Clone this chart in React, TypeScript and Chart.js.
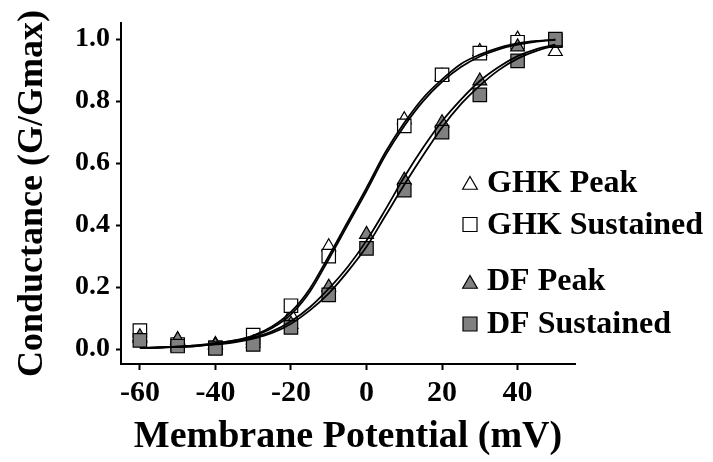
import React, { useEffect, useRef } from 'react';
import { Chart, registerables } from 'chart.js';

Chart.register(...registerables);

// Measured data points (membrane potential in mV)
const voltages = [-60, -50, -40, -30, -20, -10, 0, 10, 20, 30, 40, 50];
const ghkPeak = [0.035, 0.03, 0.015, 0.03, 0.11, 0.33, null, 0.74, 0.88, 0.96, 1.0, 0.96];
const ghkSustained = [0.06, 0.015, 0.005, 0.045, 0.14, 0.3, null, 0.72, 0.885, 0.955, 0.99, 0.995];
const dfPeak = [0.04, 0.03, 0.012, 0.02, 0.08, 0.2, 0.37, 0.545, 0.73, 0.865, 0.975, 0.99];
const dfSustained = [0.028, 0.01, 0.002, 0.015, 0.07, 0.175, 0.325, 0.513, 0.7, 0.82, 0.93, 1.0];

// Fitted curves
const curveVoltages = [-60, -55, -50, -45, -40, -35, -30, -25, -20, -15, -10, -5, 0, 5, 10, 15, 20, 25, 30, 35, 40, 45, 50];
const ghkPeakFit = [0.004, 0.006, 0.008, 0.012, 0.019, 0.028, 0.044, 0.073, 0.12, 0.195, 0.3, 0.41, 0.52, 0.635, 0.73, 0.81, 0.87, 0.92, 0.95, 0.972, 0.986, 0.994, 0.998];
const ghkSustainedFit = [0.004, 0.005, 0.008, 0.012, 0.018, 0.027, 0.042, 0.068, 0.112, 0.185, 0.29, 0.4, 0.51, 0.625, 0.72, 0.8, 0.862, 0.91, 0.944, 0.967, 0.982, 0.992, 0.998];
const dfPeakFit = [0.004, 0.005, 0.007, 0.01, 0.016, 0.024, 0.037, 0.057, 0.09, 0.135, 0.195, 0.265, 0.35, 0.45, 0.555, 0.65, 0.735, 0.805, 0.865, 0.91, 0.945, 0.968, 0.982];
const dfSustainedFit = [0.004, 0.005, 0.007, 0.01, 0.015, 0.022, 0.034, 0.052, 0.082, 0.125, 0.18, 0.25, 0.33, 0.43, 0.53, 0.625, 0.715, 0.79, 0.85, 0.9, 0.937, 0.962, 0.98];

const xTicks = [-60, -40, -20, 0, 20, 40];
const yTicks = [0, 0.2, 0.4, 0.6, 0.8, 1.0];

const seriesLabels = ['GHK Peak', 'GHK Sustained', 'DF Peak', 'DF Sustained'];

const GREY = '#808080';
const FONT = "'Liberation Serif', 'Times New Roman', serif";

function toPoints(xs: number[], ys: (number | null)[]) {
  return xs
    .map((x, i) => ({ x, y: ys[i] }))
    .filter((p) => p.y !== null) as { x: number; y: number }[];
}

function markerDataset(label: string, values: (number | null)[], style: string, fill: string, order: number) {
  const isTri = style === 'triangle';
  return {
    label,
    data: toPoints(voltages, values),
    showLine: false,
    pointStyle: style,
    pointRadius: isTri ? 8 : 9.5,
    pointHoverRadius: isTri ? 8 : 9.5,
    pointBackgroundColor: fill,
    backgroundColor: fill,
    pointBorderColor: '#000',
    borderColor: '#000',
    pointBorderWidth: 1.2,
    order,
    isMarker: true,
  };
}

function curveDataset(values: number[]) {
  return {
    label: '',
    data: toPoints(curveVoltages, values),
    showLine: true,
    pointRadius: 0,
    pointHoverRadius: 0,
    borderColor: '#000',
    borderWidth: 1.8,
    cubicInterpolationMode: 'monotone',
    fill: false,
    order: 0,
  };
}

function drawMarker(ctx: CanvasRenderingContext2D, style: string, x: number, y: number, fill: string) {
  ctx.save();
  ctx.beginPath();
  if (style === 'triangle') {
    const r = 8.5;
    ctx.moveTo(x, y - r);
    ctx.lineTo(x + 0.866 * r, y + 0.5 * r);
    ctx.lineTo(x - 0.866 * r, y + 0.5 * r);
    ctx.closePath();
  } else {
    const s = 7;
    ctx.rect(x - s, y - s, 2 * s, 2 * s);
  }
  ctx.fillStyle = fill;
  ctx.fill();
  ctx.lineWidth = 1.2;
  ctx.strokeStyle = '#000';
  ctx.stroke();
  ctx.restore();
}

const legendRows = [
  { markerY: 185, baseline: 192 },
  { markerY: 224.5, baseline: 234 },
  { markerY: 284, baseline: 290 },
  { markerY: 324, baseline: 333 },
];

const insetLegend = {
  id: 'insetLegend',
  afterDraw(chart: any) {
    const ctx = chart.ctx as CanvasRenderingContext2D;
    const markers = chart.data.datasets.filter((d: any) => d.isMarker);
    markers.forEach((d: any, i: number) => {
      const row = legendRows[i];
      drawMarker(ctx, d.pointStyle, 470, row.markerY, d.pointBackgroundColor);
      ctx.save();
      ctx.font = `bold 32px ${FONT}`;
      ctx.fillStyle = '#000';
      ctx.textAlign = 'left';
      ctx.textBaseline = 'alphabetic';
      ctx.fillText(d.label, 487, row.baseline);
      ctx.restore();
    });
  },
};

export default function App() {
  const canvasRef = useRef<HTMLCanvasElement | null>(null);

  useEffect(() => {
    if (!canvasRef.current) return;
    const chart = new Chart(canvasRef.current, {
      type: 'scatter',
      data: {
        datasets: [
          markerDataset(seriesLabels[0], ghkPeak, 'triangle', '#ffffff', 4),
          markerDataset(seriesLabels[1], ghkSustained, 'rect', '#ffffff', 3),
          markerDataset(seriesLabels[2], dfPeak, 'triangle', GREY, 2),
          markerDataset(seriesLabels[3], dfSustained, 'rect', GREY, 1),
          curveDataset(ghkPeakFit),
          curveDataset(ghkSustainedFit),
          curveDataset(dfPeakFit),
          curveDataset(dfSustainedFit),
        ] as any,
      },
      options: {
        animation: false,
        responsive: false,
        events: [],
        layout: { padding: { top: 23, right: 138, bottom: 0, left: 0 } },
        plugins: {
          legend: { display: false },
          tooltip: { enabled: false },
          title: { display: false },
        },
        scales: {
          x: {
            type: 'linear',
            min: -65,
            max: 55.2,
            afterBuildTicks: (scale: any) => {
              scale.ticks = xTicks.map((v) => ({ value: v }));
            },
            afterFit: (scale: any) => {
              scale.height = 98;
            },
            grid: {
              drawOnChartArea: false,
              drawTicks: true,
              tickLength: 6,
              tickWidth: 2,
              tickColor: '#000',
            },
            border: { display: true, color: '#000', width: 2 },
            ticks: {
              color: '#000',
              padding: 5,
              maxRotation: 0,
              autoSkip: false,
              font: { family: FONT, size: 30, weight: 'bold' },
              callback: (v: any) => String(v),
            },
            title: {
              display: true,
              text: 'Membrane Potential (mV)',
              color: '#000',
              font: { family: FONT, size: 38, weight: 'bold' },
              padding: { top: 0, bottom: 2 },
            },
          },
          y: {
            type: 'linear',
            min: -0.048,
            max: 1.052,
            afterBuildTicks: (scale: any) => {
              scale.ticks = yTicks.map((v) => ({ value: v }));
            },
            afterFit: (scale: any) => {
              scale.width = 121;
            },
            grid: {
              drawOnChartArea: false,
              drawTicks: true,
              tickLength: 5,
              tickWidth: 2,
              tickColor: '#000',
            },
            border: { display: true, color: '#000', width: 2 },
            ticks: {
              color: '#000',
              padding: 6,
              autoSkip: false,
              font: { family: FONT, size: 28, weight: 'bold' },
              callback: (v: any) => Number(v).toFixed(1),
            },
            title: {
              display: true,
              text: 'Conductance (G/Gmax)',
              color: '#000',
              font: { family: FONT, size: 36, weight: 'bold' },
              padding: { top: 11, bottom: 0 },
            },
          },
        },
      } as any,
      plugins: [insetLegend],
    });
    return () => chart.destroy();
  }, []);

  return (
    <div style={{ position: 'fixed', left: 0, top: 0, width: 713, height: 462, background: '#fff' }}>
      <canvas ref={canvasRef} width={713} height={462} style={{ display: 'block' }} />
    </div>
  );
}
